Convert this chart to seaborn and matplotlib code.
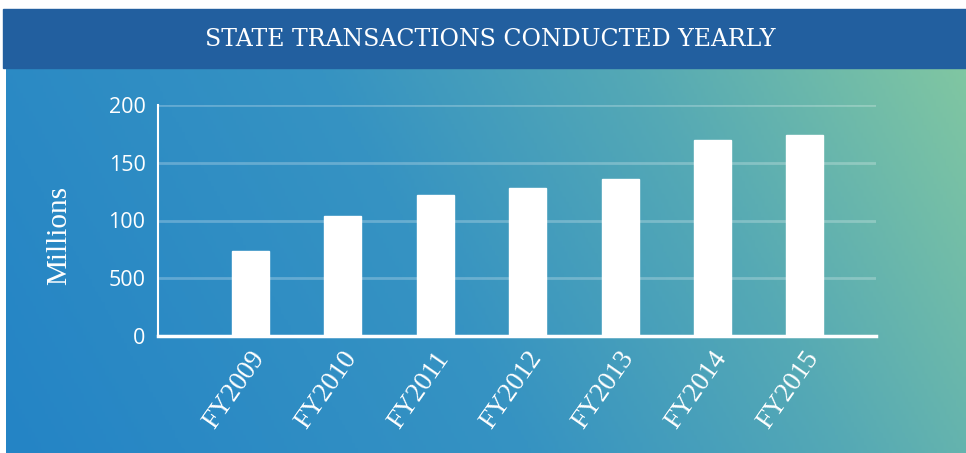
import numpy as np
import pandas as pd
import matplotlib
matplotlib.use('Agg')
import matplotlib.pyplot as plt
import matplotlib.transforms as mtrans
from matplotlib.colors import LinearSegmentedColormap
from matplotlib.patches import Rectangle
import seaborn as sns

# data (millions)
years = ['FY2009', 'FY2010', 'FY2011', 'FY2012', 'FY2013', 'FY2014', 'FY2015']
transactions = [74, 104, 122, 128, 136, 170, 174]
ytick_vals = [0, 50, 100, 150, 200]
ytick_text = ['0', '500', '100', '150', '200']  # as printed on the original

df = pd.DataFrame({'year': years, 'millions': transactions})

sns.set_style('white')
plt.rcParams['font.family'] = ['Liberation Serif', 'DejaVu Serif']

fig = plt.figure(figsize=(9.66, 4.53), dpi=100)
fig.patch.set_facecolor('white')

# gradient background
bg = fig.add_axes([6 / 966, 0, 1 - 6 / 966, (453 - 68) / 453])
grad_cmap = LinearSegmentedColormap.from_list(
    'bg', [(0, '#2484c6'), (0.45, '#3693c2'), (0.72, '#55a9b5'), (1, '#80c6a2')])
xx, yy = np.meshgrid(np.linspace(0, 1, 300), np.linspace(0, 1, 150))
bg.imshow(0.82 * xx + 0.18 * yy, cmap=grad_cmap, origin='lower', aspect='auto',
          extent=[0, 1, 0, 1], vmin=0, vmax=1)
bg.set_axis_off()

# header band
fig.patches.append(Rectangle((3 / 966, (453 - 68) / 453), 1, (68 - 9) / 453,
                             transform=fig.transFigure, color='#225f9f', zorder=0))
fig.text(490 / 966, (453 - 40) / 453, 'STATE TRANSACTIONS CONDUCTED YEARLY',
         color='white', fontsize=17, family='DejaVu Serif', ha='center', va='center')

ax = fig.add_axes([158 / 966, (453 - 336) / 453, (876 - 158) / 966, (336 - 105) / 453])
ax.patch.set_alpha(0)
sns.barplot(data=df, x='year', y='millions', color='white', saturation=1,
            width=0.4, ax=ax, zorder=3)

ax.set_xlim(-1.0, 6.77)
ax.set_ylim(0, 200)
ax.set_yticks(ytick_vals)
ax.set_yticklabels(ytick_text, family=['Open Sans', 'DejaVu Sans'], fontsize=15.5,
                   color='white')
ax.yaxis.grid(True, color='white', alpha=0.25, linewidth=2)
ax.set_axisbelow(True)
ax.tick_params(axis='both', length=0)
ax.tick_params(axis='y', pad=9)
ax.tick_params(axis='x', pad=13)
shift = mtrans.ScaledTranslation(9 / 100, 0, fig.dpi_scale_trans)
for lab in ax.get_xticklabels():
    lab.set_rotation(55)
    lab.set_ha('right')
    lab.set_va('center')
    lab.set_rotation_mode('anchor')
    lab.set_fontsize(19.5)
    lab.set_color('white')
    lab.set_transform(lab.get_transform() + shift)

for side in ['top', 'right']:
    ax.spines[side].set_visible(False)
ax.spines['left'].set_color('white')
ax.spines['left'].set_linewidth(1.5)
ax.spines['bottom'].set_color('white')
ax.spines['bottom'].set_linewidth(2.5)

ax.set_xlabel('')
ax.set_ylabel('Millions', color='white', fontsize=21)
ax.yaxis.set_label_coords((72 - 158) / (876 - 158), 0.433)

fig.savefig('out.png', dpi=100)
